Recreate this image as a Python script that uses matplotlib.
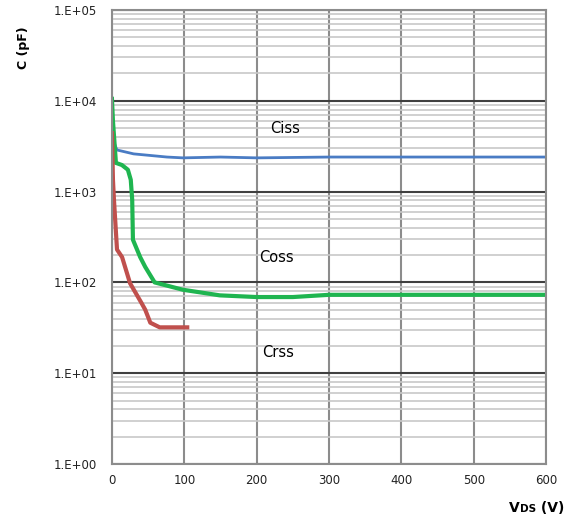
import numpy as np
import matplotlib.pyplot as plt
from matplotlib.ticker import FixedLocator, LogLocator, NullFormatter
from matplotlib.offsetbox import TextArea, HPacker, AnchoredOffsetbox

# Vds (V) / capacitance (pF)
ciss_v = [0, 2, 7, 30, 76, 98, 150, 200, 300, 400, 500, 600]
ciss_c = [6500, 3600, 2870, 2600, 2400, 2350, 2400, 2350, 2400, 2400, 2400, 2400]

coss_v = [0, 1.4, 5.5, 13.8, 22, 26, 28, 29, 39, 46, 59, 98, 149, 200, 250, 300, 400, 500, 600]
coss_c = [10500, 6000, 2070, 1960, 1740, 1350, 810, 295, 190, 148, 100, 83, 72, 69, 69, 73, 73, 73, 73]

crss_v = [0, 1.4, 2.8, 7, 14, 25, 41, 46, 53, 66, 104]
crss_c = [4400, 1350, 810, 230, 190, 98, 59, 50, 36, 32, 32]

y_ticks = [1, 10, 100, 1000, 10000, 100000]
y_labels = ['1.E+00', '1.E+01', '1.E+02', '1.E+03', '1.E+04', '1.E+05']
x_ticks = [0, 100, 200, 300, 400, 500, 600]

fig = plt.figure(figsize=(5.83, 5.22), dpi=100)
ax = fig.add_axes([0.192, 0.111, 0.745, 0.870])

ax.set_yscale('log')
ax.set_xlim(0, 600)
ax.set_ylim(1, 1e5)

ax.yaxis.set_major_locator(FixedLocator(y_ticks))
ax.set_yticklabels(y_labels)
ax.yaxis.set_minor_locator(LogLocator(base=10, subs=np.arange(2, 10)))
ax.yaxis.set_minor_formatter(NullFormatter())
ax.set_xticks(x_ticks)

ax.grid(True, which='minor', axis='y', color='#c8c8c8', lw=1.2)
ax.grid(True, which='major', axis='y', color='#404040', lw=1.5)
ax.grid(True, which='major', axis='x', color='#8c8c8c', lw=1.5)
ax.set_axisbelow(True)

for s in ax.spines.values():
    s.set_color('#8c8c8c')
    s.set_linewidth(1.5)

ax.tick_params(which='both', length=0, labelsize=8.5, colors='#222222')
ax.tick_params(axis='x', pad=7)
ax.tick_params(axis='y', pad=11)

ax.plot(ciss_v, ciss_c, color='#4a7cc4', lw=2)
ax.plot(coss_v, coss_c, color='#1fb550', lw=3)
ax.plot(crss_v, crss_c, color='#c0504d', lw=3)

ax.text(239, 5000, 'Ciss', fontsize=10.5, ha='center', va='center')
ax.text(227, 186, 'Coss', fontsize=10.5, ha='center', va='center')
ax.text(229, 17, 'Crss', fontsize=10.5, ha='center', va='center')

fig.text(0.04, 0.908, 'C (pF)', rotation=90, fontsize=9, fontweight='bold',
         ha='center', va='center')

# x label: V with small-caps DS
bold = dict(fontweight='bold', color='black')
parts = [TextArea('V', textprops=dict(fontsize=10, **bold)),
         TextArea('DS', textprops=dict(fontsize=7.5, **bold)),
         TextArea(' (V)', textprops=dict(fontsize=10, **bold))]
xlab = HPacker(children=parts, align='baseline', pad=0, sep=0)
box = AnchoredOffsetbox(loc='center', child=xlab, frameon=False, pad=0,
                        bbox_to_anchor=(0.921, 0.027),
                        bbox_transform=fig.transFigure, borderpad=0)
fig.add_artist(box)

fig.savefig('out.png', dpi=100)
